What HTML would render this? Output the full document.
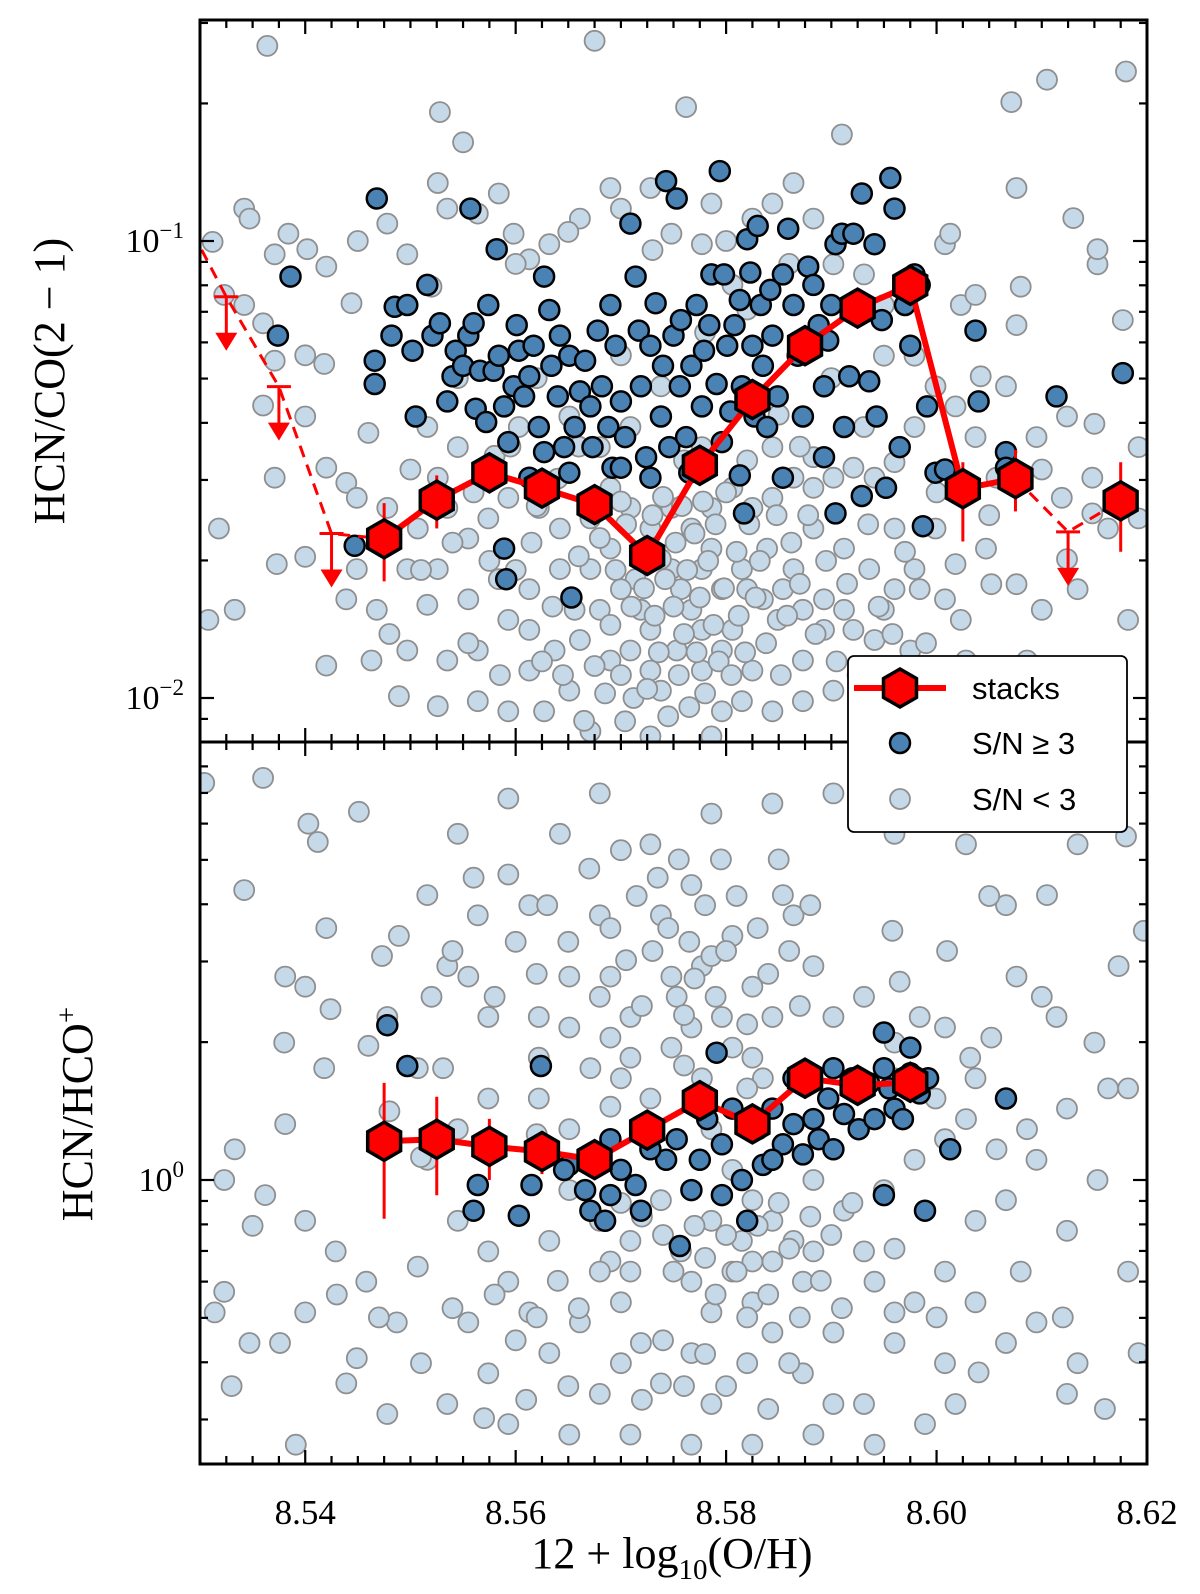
<!DOCTYPE html>
<html><head><meta charset="utf-8"><style>
html,body{margin:0;padding:0;background:#fff;}
svg{display:block;}
</style></head><body>
<svg id="fig" xmlns="http://www.w3.org/2000/svg" width="1200" height="1594" viewBox="0 0 1200 1594">
<defs>
<clipPath id="clipTop"><rect x="200" y="20" width="947" height="722"/></clipPath>
<clipPath id="clipBot"><rect x="200" y="742" width="947" height="722"/></clipPath>
</defs>
<g id="topPanel"></g>
<g id="botPanel"></g>
<g id="axes"></g>
<g id="legend"></g>
</svg>
<script>
// ---- data (x = 12+log10(O/H), y = log10 ratio) ----
const xTickLabels = ["8.54","8.56","8.58","8.60","8.62"];
const xTickValues = [8.54,8.56,8.58,8.60,8.62];
const topYTickExp = [-1,-2];
const botYTickExp = [0];

const topStackX = [8.5475,8.5525,8.5575,8.5625,8.5675,8.5725,8.5775,8.5825,8.5875,8.5925,8.5975,8.6025,8.6075,8.6175];
const topStackY = [0.0223,0.0271,0.0311,0.0288,0.0265,0.0205,0.0323,0.045,0.059,0.0713,0.080,0.0287,0.0302,0.027];
const topStackLo = [0.018,0.0235,0.0295,0.0275,0.0253,0.0195,0.0308,0.0432,0.0566,0.0688,0.0772,0.022,0.0256,0.0209];
const topStackHi = [0.0267,0.0307,0.0328,0.0302,0.0278,0.0216,0.0339,0.0468,0.0614,0.0738,0.0828,0.0328,0.0349,0.0328];
const topLimitX = [8.5275,8.5325,8.5375,8.5425,8.6125];
const topLimitY = [0.125,0.0755,0.048,0.0229,0.0231];

const botStackX = [8.5475,8.5525,8.5575,8.5625,8.5675,8.5725,8.5775,8.5825,8.5875,8.5925,8.5975];
const botStackY = [1.215,1.227,1.184,1.154,1.108,1.285,1.49,1.326,1.668,1.61,1.634];
const botStackLo = [0.823,0.926,1.0,1.03,1.05,1.24,1.43,1.28,1.62,1.56,1.58];
const botStackHi = [1.63,1.52,1.36,1.28,1.2,1.33,1.55,1.37,1.72,1.66,1.69];

const topDark = [[8.5468,-0.907],[8.5386,-1.078],[8.5374,-1.207],[8.5466,-1.262],[8.5466,-1.313],[8.5485,-1.144],[8.5497,-1.140],[8.5482,-1.207],[8.5502,-1.240],[8.5505,-1.384],[8.5516,-1.096],[8.5521,-1.207],[8.5528,-1.180],[8.5535,-1.351],[8.5540,-1.296],[8.5543,-1.240],[8.5550,-1.273],[8.5555,-1.207],[8.5557,-0.929],[8.5560,-1.180],[8.5562,-1.367],[8.5566,-1.284],[8.5572,-1.396],[8.5574,-1.140],[8.5579,-1.284],[8.5582,-1.018],[8.5584,-1.251],[8.5589,-1.362],[8.5593,-1.440],[8.5598,-1.318],[8.5601,-1.184],[8.5603,-1.240],[8.5608,-1.340],[8.5613,-1.296],[8.5617,-1.229],[8.5622,-1.407],[8.5627,-1.078],[8.5627,-1.462],[8.5632,-1.151],[8.5634,-1.273],[8.5640,-1.340],[8.5642,-1.207],[8.5646,-1.451],[8.5651,-1.251],[8.5656,-1.407],[8.5661,-1.329],[8.5666,-1.262],[8.5671,-1.362],[8.5673,-1.451],[8.5678,-1.196],[8.5682,-1.318],[8.5688,-1.407],[8.5690,-1.140],[8.5692,-1.496],[8.5695,-1.229],[8.5700,-1.351],[8.5704,-1.429],[8.5709,-0.962],[8.5714,-1.078],[8.5717,-1.196],[8.5719,-1.318],[8.5724,-1.473],[8.5728,-1.229],[8.5733,-1.136],[8.5738,-1.384],[8.5740,-1.273],[8.5743,-0.869],[8.5746,-1.451],[8.5750,-1.207],[8.5753,-0.907],[8.5756,-1.318],[8.5757,-1.173],[8.5762,-1.429],[8.5767,-1.273],[8.5772,-1.140],[8.5777,-1.362],[8.5779,-1.240],[8.5784,-1.184],[8.5786,-1.073],[8.5791,-1.313],[8.5794,-0.847],[8.5796,-1.440],[8.5798,-1.073],[8.5801,-1.229],[8.5804,-1.373],[8.5808,-1.184],[8.5813,-1.129],[8.5815,-1.318],[8.5820,-0.996],[8.5823,-1.069],[8.5825,-1.229],[8.5827,-1.384],[8.5830,-0.967],[8.5833,-1.140],[8.5835,-1.273],[8.5839,-1.407],[8.5842,-1.107],[8.5844,-1.207],[8.5849,-1.340],[8.5854,-1.073],[8.5859,-0.973],[8.5864,-1.140],[8.5868,-1.251],[8.5873,-1.384],[8.5878,-1.056],[8.5883,-1.096],[8.5888,-1.184],[8.5893,-1.318],[8.5897,-1.218],[8.5900,-1.140],[8.5904,-1.007],[8.5910,-0.984],[8.5912,-1.407],[8.5917,-1.296],[8.5921,-0.984],[8.5929,-0.896],[8.5936,-1.307],[8.5941,-1.007],[8.5943,-1.384],[8.5948,-1.173],[8.5952,-1.540],[8.5956,-0.862],[8.5960,-0.929],[8.5965,-1.451],[8.5970,-1.140],[8.5975,-1.229],[8.5979,-1.073],[8.5984,-1.096],[8.5987,-1.624],[8.5991,-1.362],[8.5999,-1.507],[8.6008,-1.500],[8.6023,-1.544],[8.6040,-1.351],[8.6066,-1.462],[8.6066,-1.496],[8.6114,-1.340],[8.6177,-1.289],[8.6037,-1.196],[8.5447,-1.667],[8.5589,-1.673],[8.5591,-1.740],[8.5653,-1.780],[8.5817,-1.596],[8.5700,-1.496],[8.5765,-1.507],[8.5813,-1.513],[8.5854,-1.518],[8.5893,-1.473],[8.5929,-1.558],[8.5904,-1.596],[8.5651,-1.507],[8.5613,-1.518],[8.5728,-1.518]];

const topFaint = [[8.5364,-0.573],[8.5675,-0.562],[8.5528,-0.718],[8.5550,-0.784],[8.5762,-0.707],[8.5910,-0.767],[8.6105,-0.647],[8.6180,-0.629],[8.5342,-0.929],[8.5347,-0.951],[8.5384,-0.984],[8.5371,-1.029],[8.5402,-1.018],[8.5420,-1.056],[8.5444,-1.136],[8.5342,-1.140],[8.5312,-1.002],[8.5323,-1.118],[8.5360,-1.180],[8.5371,-1.262],[8.5418,-1.269],[8.5400,-1.384],[8.5420,-1.496],[8.5439,-1.529],[8.5371,-1.518],[8.5318,-1.629],[8.5400,-1.691],[8.5373,-1.707],[8.5333,-1.807],[8.5308,-1.829],[8.5420,-1.929],[8.5439,-1.784],[8.5463,-1.918],[8.5489,-1.996],[8.5516,-1.796],[8.5526,-2.018],[8.5564,-1.896],[8.5593,-1.829],[8.5613,-1.940],[8.5627,-2.029],[8.5651,-1.984],[8.5661,-1.873],[8.5680,-1.807],[8.5690,-1.918],[8.5704,-2.051],[8.5714,-1.740],[8.5728,-1.851],[8.5738,-1.984],[8.5748,-1.718],[8.5767,-1.807],[8.5777,-1.940],[8.5786,-1.673],[8.5796,-2.029],[8.5806,-1.851],[8.5820,-1.762],[8.5825,-1.940],[8.5839,-1.673],[8.5849,-1.829],[8.5864,-1.718],[8.5873,-1.918],[8.5883,-1.629],[8.5893,-1.784],[8.5902,-1.984],[8.5912,-1.673],[8.5921,-1.851],[8.5936,-1.718],[8.5950,-1.807],[8.5960,-1.629],[8.5975,-1.896],[8.5984,-1.762],[8.5999,-1.629],[8.6008,-1.784],[8.6018,-1.707],[8.6023,-1.829],[8.6047,-1.673],[8.6052,-1.751],[8.6076,-1.751],[8.6100,-1.807],[8.6124,-1.696],[8.6148,-1.596],[8.6182,-1.829],[8.6192,-1.451],[8.6177,-1.173],[8.6153,-1.051],[8.6153,-1.018],[8.6124,-1.384],[8.6119,-1.562],[8.6148,-1.518],[8.6095,-1.429],[8.6076,-1.184],[8.6066,-1.318],[8.6042,-1.296],[8.6023,-1.140],[8.6008,-1.007],[8.6013,-0.984],[8.6037,-1.118],[8.6076,-0.884],[8.6071,-0.696],[8.5478,-0.962],[8.5497,-1.029],[8.5526,-0.873],[8.5535,-0.929],[8.5564,-0.940],[8.5584,-0.896],[8.5598,-0.984],[8.5613,-1.040],[8.5632,-1.007],[8.5661,-0.951],[8.5690,-0.884],[8.5700,-0.929],[8.5728,-0.884],[8.5748,-0.984],[8.5777,-1.007],[8.5786,-0.918],[8.5806,-1.096],[8.5825,-0.951],[8.5844,-0.918],[8.5864,-0.873],[8.5883,-0.951],[8.5902,-1.051],[8.5931,-1.073],[8.5950,-1.140],[8.5449,-1.562],[8.5478,-1.584],[8.5507,-1.629],[8.5535,-1.584],[8.5555,-1.651],[8.5574,-1.607],[8.5593,-1.562],[8.5622,-1.584],[8.5642,-1.629],[8.5671,-1.607],[8.5690,-1.673],[8.5709,-1.584],[8.5728,-1.629],[8.5748,-1.584],[8.5767,-1.629],[8.5786,-1.584],[8.5806,-1.540],[8.5825,-1.584],[8.5844,-1.562],[8.5864,-1.518],[8.5883,-1.540],[8.5902,-1.518],[8.5921,-1.496],[8.5941,-1.518],[8.5960,-1.484],[8.5979,-1.407],[8.5999,-1.318],[8.6018,-1.362],[8.6037,-1.429],[8.6057,-1.518],[8.5497,-1.718],[8.5526,-1.718],[8.5555,-1.784],[8.5584,-1.740],[8.5613,-1.762],[8.5642,-1.718],[8.5671,-1.718],[8.5700,-1.762],[8.5719,-1.807],[8.5738,-1.696],[8.5757,-1.762],[8.5777,-1.718],[8.5796,-1.762],[8.5815,-1.718],[8.5835,-1.784],[8.5854,-1.762],[8.5873,-1.807],[8.5893,-1.851],[8.5912,-1.807],[8.5941,-1.873],[8.5960,-1.762],[8.5979,-1.718],[8.5613,-1.851],[8.5637,-1.896],[8.5656,-1.807],[8.5690,-1.840],[8.5709,-1.896],[8.5728,-1.940],[8.5753,-1.896],[8.5777,-1.851],[8.5796,-1.896],[8.5815,-2.007],[8.5844,-2.029],[8.5873,-2.007],[8.5931,-2.029],[8.5960,-1.940],[8.5593,-2.029],[8.5564,-2.007],[8.5535,-1.918],[8.5497,-1.896],[8.5468,-1.807],[8.5449,-1.718],[8.5516,-1.407],[8.5545,-1.451],[8.5603,-1.407],[8.5651,-1.384],[8.5680,-1.451],[8.5709,-1.407],[8.5738,-1.318],[8.5777,-1.451],[8.5844,-1.451],[8.5883,-1.473],[8.5931,-1.407],[8.5979,-1.251],[8.5950,-1.251],[8.5690,-1.540],[8.5632,-1.540],[8.5526,-1.518],[8.6192,-1.607],[8.6134,-1.762],[8.6163,-1.629],[8.6028,-1.918],[8.6057,-2.007],[8.6086,-1.918],[8.6134,-1.984],[8.5999,-2.029],[8.6037,-2.073],[8.5671,-2.073],[8.5728,-2.084],[8.5786,-2.084]];

const topFaintDense = [[8.5635,-1.80],[8.5645,-1.95],[8.5660,-1.69],[8.5665,-2.05],[8.5675,-1.93],[8.5680,-1.65],[8.5685,-1.99],[8.5695,-1.72],[8.5700,-1.95],[8.5705,-1.62],[8.5710,-1.80],[8.5712,-2.00],[8.5718,-1.68],[8.5722,-1.76],[8.5725,-1.98],[8.5730,-1.60],[8.5732,-1.82],[8.5736,-1.90],[8.5740,-1.56],[8.5742,-1.74],[8.5745,-2.04],[8.5750,-1.80],[8.5752,-1.66],[8.5755,-1.95],[8.5758,-1.58],[8.5760,-1.86],[8.5763,-1.72],[8.5765,-2.02],[8.5770,-1.64],[8.5772,-1.90],[8.5775,-1.78],[8.5778,-1.57],[8.5780,-1.99],[8.5783,-1.70],[8.5788,-1.84],[8.5790,-1.62],[8.5793,-1.92],[8.5798,-1.76],[8.5800,-1.55],[8.5805,-1.95],[8.5810,-1.68],[8.5812,-1.82],[8.5818,-1.90],[8.5822,-1.62],[8.5828,-1.78],[8.5832,-1.70],[8.5838,-1.88],[8.5848,-1.60],[8.5852,-1.95],[8.5858,-1.82],[8.5862,-1.66],[8.5870,-1.75],[8.5878,-1.60],[8.5885,-1.86],[8.5895,-1.70],[8.5905,-1.92],[8.5915,-1.75],[8.5925,-1.95],[8.5935,-1.62],[8.5945,-1.80],[8.5958,-1.86],[8.5970,-1.68],[8.5990,-1.88],[8.5540,-1.66],[8.5555,-1.88],[8.5575,-1.70],[8.5585,-1.95],[8.5600,-1.72],[8.5615,-1.66],[8.5625,-1.92],[8.5620,-1.58],[8.5560,-1.55],[8.5510,-1.72],[8.5480,-1.86],[8.5580,-1.47],[8.5640,-1.52],[8.5700,-1.57],[8.5760,-1.48],[8.5820,-1.48],[8.5870,-1.45],[8.5460,-1.42],[8.5500,-1.50],[8.5595,-1.45],[8.5660,-1.45],[8.5850,-1.38],[8.5900,-1.30],[8.5620,-1.30],[8.5545,-1.30],[8.5700,-1.25],[8.5780,-1.20],[8.5820,-1.15],[8.5860,-1.05],[8.5520,-1.10],[8.5600,-1.05],[8.5650,-0.98],[8.5730,-1.02],[8.5800,-1.00],[8.5450,-1.00],[8.5400,-1.25],[8.5360,-1.36],[8.6000,-1.55],[8.6050,-1.60],[8.6100,-1.50],[8.6150,-1.40],[8.6080,-1.10],[8.6130,-0.95]];

const botFaint = [[8.5304,0.867],[8.5360,0.878],[8.5342,0.633],[8.5403,0.778],[8.5412,0.738],[8.5451,0.804],[8.5381,0.444],[8.5400,0.422],[8.5424,0.373],[8.5473,0.489],[8.5489,0.533],[8.5516,0.622],[8.5535,0.467],[8.5478,0.356],[8.5460,0.293],[8.5418,0.244],[8.5507,0.244],[8.5531,0.244],[8.5555,0.444],[8.5574,0.356],[8.5593,0.667],[8.5613,0.600],[8.5622,0.356],[8.5651,0.444],[8.5680,0.578],[8.5690,0.444],[8.5709,0.356],[8.5738,0.578],[8.5753,0.400],[8.5777,0.467],[8.5796,0.356],[8.5806,0.533],[8.5825,0.422],[8.5844,0.356],[8.5864,0.578],[8.5883,0.467],[8.5902,0.356],[8.5931,0.400],[8.5958,0.544],[8.5965,0.433],[8.5984,0.356],[8.6008,0.333],[8.6032,0.267],[8.6076,0.444],[8.6114,0.356],[8.6182,0.200],[8.6197,0.544],[8.6173,0.467],[8.6105,0.622],[8.6134,0.733],[8.6028,0.733],[8.6066,0.600],[8.6052,0.311],[8.5960,0.756],[8.5902,0.844],[8.5844,0.822],[8.5786,0.800],[8.5728,0.733],[8.5680,0.844],[8.5593,0.833],[8.5545,0.756],[8.5854,0.622],[8.5767,0.644],[8.5642,0.756],[8.5564,0.578],[8.5333,0.067],[8.5323,0.000],[8.5381,0.122],[8.5362,-0.033],[8.5400,-0.089],[8.5429,-0.156],[8.5458,-0.222],[8.5487,-0.311],[8.5507,-0.189],[8.5449,-0.389],[8.5400,-0.289],[8.5376,-0.356],[8.5347,-0.356],[8.5323,-0.244],[8.5314,-0.289],[8.5545,-0.089],[8.5574,-0.156],[8.5593,-0.222],[8.5613,-0.289],[8.5632,-0.378],[8.5661,-0.311],[8.5690,-0.178],[8.5700,-0.267],[8.5719,-0.356],[8.5738,-0.444],[8.5767,-0.378],[8.5786,-0.289],[8.5806,-0.200],[8.5825,-0.267],[8.5844,-0.333],[8.5873,-0.422],[8.5902,-0.333],[8.5931,-0.489],[8.5960,-0.356],[8.5979,-0.267],[8.6008,-0.200],[8.6037,-0.089],[8.6066,-0.044],[8.6095,0.044],[8.6124,-0.111],[8.6153,0.000],[8.6182,-0.200],[8.6192,-0.378],[8.6134,-0.400],[8.6095,-0.311],[8.6066,-0.356],[8.6037,-0.267],[8.6008,-0.400],[8.5989,-0.533],[8.5941,-0.578],[8.5883,-0.556],[8.5825,-0.578],[8.5767,-0.578],[8.5709,-0.556],[8.5651,-0.556],[8.5593,-0.533],[8.5535,-0.489],[8.5478,-0.511],[8.5439,-0.444],[8.5391,-0.578],[8.5574,-0.422],[8.5680,-0.467],[8.5786,-0.489],[8.5902,-0.489],[8.6018,-0.489],[8.6124,-0.467],[8.5516,0.044],[8.5545,0.111],[8.5622,0.178],[8.5651,0.111],[8.5671,0.244],[8.5700,0.222],[8.5728,0.178],[8.5748,0.289],[8.5777,0.222],[8.5786,0.111],[8.5806,0.022],[8.5825,-0.044],[8.5844,-0.089],[8.5864,-0.133],[8.5883,0.000],[8.5912,-0.067],[8.5931,-0.156],[8.5950,-0.022],[8.5979,0.044],[8.6008,0.089],[8.6028,0.133],[8.6057,0.067],[8.6086,0.111],[8.6124,0.156],[8.6163,0.200],[8.5651,-0.022],[8.5680,-0.089],[8.5709,-0.133],[8.5738,-0.044],[8.5757,-0.156],[8.5786,-0.089],[8.5815,-0.133],[8.5844,-0.178],[8.5873,-0.222],[8.5632,-0.133],[8.5709,-0.200],[8.5767,-0.222],[8.5825,-0.178],[8.5883,-0.156],[8.5941,-0.222],[8.5960,-0.289],[8.5709,0.267],[8.5767,0.333],[8.5806,0.289],[8.5835,0.222],[8.5651,0.333],[8.5690,0.311],[8.5748,0.444],[8.5786,0.489],[8.5825,0.267],[8.5622,0.267],[8.5574,0.178],[8.5960,0.222],[8.5999,0.178],[8.6037,0.222],[8.5555,-0.311]];

const botFaintDense = [[8.5630,0.60],[8.5650,0.52],[8.5670,0.68],[8.5680,0.40],[8.5690,0.55],[8.5700,0.72],[8.5705,0.48],[8.5715,0.62],[8.5720,0.38],[8.5730,0.50],[8.5735,0.66],[8.5745,0.55],[8.5755,0.70],[8.5760,0.36],[8.5765,0.52],[8.5770,0.44],[8.5780,0.60],[8.5790,0.40],[8.5795,0.70],[8.5800,0.50],[8.5810,0.62],[8.5820,0.34],[8.5830,0.55],[8.5840,0.45],[8.5850,0.70],[8.5860,0.50],[8.5870,0.38],[8.5880,0.60],[8.5620,0.45],[8.5600,0.52],[8.5580,0.40],[8.5560,0.66],[8.5540,0.50],[8.5520,0.40],[8.5700,-0.05],[8.5720,-0.08],[8.5740,-0.12],[8.5750,-0.20],[8.5770,-0.10],[8.5780,-0.17],[8.5790,-0.25],[8.5800,-0.12],[8.5810,-0.20],[8.5820,-0.30],[8.5830,-0.10],[8.5840,-0.25],[8.5850,-0.05],[8.5860,-0.15],[8.5870,-0.30],[8.5880,-0.08],[8.5890,-0.22],[8.5900,-0.12],[8.5910,-0.28],[8.5920,-0.05],[8.5680,-0.20],[8.5660,-0.28],[8.5640,-0.22],[8.5620,-0.30],[8.5600,-0.35],[8.5580,-0.25],[8.5700,-0.40],[8.5720,-0.48],[8.5740,-0.35],[8.5760,-0.45],[8.5780,-0.38],[8.5800,-0.45],[8.5820,-0.40],[8.5840,-0.50],[8.5860,-0.40],[8.5650,-0.45],[8.5610,-0.48],[8.5570,-0.52],[8.5540,-0.28],[8.5510,-0.40],[8.5470,-0.30],[8.5430,-0.25],[8.5960,-0.15],[8.6000,-0.30],[8.6040,-0.42],[8.6080,-0.20],[8.6120,-0.30],[8.6160,-0.50],[8.5350,-0.10],[8.5330,-0.45],[8.5380,0.30],[8.5420,0.55],[8.5480,0.15],[8.5510,0.05],[8.5960,0.30],[8.6010,0.50],[8.6050,0.62],[8.6100,0.40],[8.6150,0.30],[8.6180,0.75],[8.5620,0.10],[8.5690,0.16],[8.5760,0.25],[8.5820,0.20]];

const botDark = [[8.5478,0.338],[8.5497,0.249],[8.5624,0.249],[8.5791,0.278],[8.5950,0.322],[8.5975,0.289],[8.6066,0.178],[8.6013,0.067],[8.5560,-0.067],[8.5564,-0.011],[8.5603,-0.078],[8.5615,-0.011],[8.5651,0.033],[8.5666,-0.022],[8.5671,-0.067],[8.5685,-0.089],[8.5700,0.022],[8.5714,-0.011],[8.5719,-0.067],[8.5743,0.044],[8.5753,0.089],[8.5767,-0.022],[8.5775,0.044],[8.5782,0.133],[8.5796,0.078],[8.5806,0.156],[8.5815,0.000],[8.5820,-0.089],[8.5830,0.111],[8.5835,0.033],[8.5844,0.156],[8.5854,0.078],[8.5864,0.122],[8.5873,0.056],[8.5883,0.133],[8.5888,0.089],[8.5897,0.178],[8.5902,0.067],[8.5912,0.144],[8.5920,0.222],[8.5926,0.111],[8.5936,0.211],[8.5941,0.133],[8.5950,0.244],[8.5955,0.200],[8.5960,0.156],[8.5968,0.133],[8.5975,0.233],[8.5984,0.189],[8.5950,-0.033],[8.5989,-0.067],[8.5864,0.222],[8.5844,0.044],[8.5902,0.244],[8.5690,0.089],[8.5728,0.067],[8.5756,-0.144],[8.5646,0.022],[8.5690,-0.033],[8.5796,-0.033],[8.5992,0.222]];

// ---- axis functions ----
const X0=200, X1=1147, XMIN=8.53, XMAX=8.62;
function xs(v){ return X0 + (v-XMIN)/(XMAX-XMIN)*(X1-X0); }
const TOP0=20, MID=742, BOT=1464;
function ysTopLog(l){ return 241 + (-1 - l)*457; }
function ysTop(v){ return ysTopLog(Math.log10(v)); }
function ysBotLog(l){ return 1180 - l*458; }
function ysBot(v){ return ysBotLog(Math.log10(v)); }

const NS="http://www.w3.org/2000/svg";
function mk(tag, attrs, parent){
  const e=document.createElementNS(NS,tag);
  for(const k in attrs) e.setAttribute(k, attrs[k]);
  parent.appendChild(e); return e;
}
function hexPts(cx,cy,r){
  let s=[];
  for(let k=0;k<6;k++){ const a=(90+60*k)*Math.PI/180; s.push((cx+r*Math.cos(a)).toFixed(1)+","+(cy-r*Math.sin(a)).toFixed(1)); }
  return s.join(" ");
}

const topG=document.getElementById('topPanel');
const botG=document.getElementById('botPanel');
const tClip=mk('g',{'clip-path':'url(#clipTop)'},topG);
const bClip=mk('g',{'clip-path':'url(#clipBot)'},botG);

function scatter(parent, pts, yfun, dark, nm){
  pts.forEach(p=>{
    const c=mk('circle',{cx:xs(p[0]).toFixed(1), cy:yfun(p[1]).toFixed(1), r:10,
      fill: dark?'#4a82b4':'#c6d9e9', stroke: dark?'#000':'#8f8f8f', 'stroke-width': dark?2.5:1.8}, parent);
    
    
  });
}
scatter(tClip, topFaint, ysTopLog, false, 'faint-point');
scatter(tClip, topFaintDense, ysTopLog, false, 'faint-point');
scatter(tClip, topDark, ysTopLog, true, 'detection-point');
scatter(bClip, botFaint, ysBotLog, false, 'faint-point');
scatter(bClip, botFaintDense, ysBotLog, false, 'faint-point');
scatter(bClip, botDark, ysBotLog, true, 'detection-point');

function polyline(parent, xsArr, ysArr, yfun, dashed, nm){
  const pts = xsArr.map((x,i)=>xs(x).toFixed(1)+","+yfun(ysArr[i]).toFixed(1)).join(" ");
  const l=mk('polyline',{points:pts, fill:'none', stroke:'#ff0000', 'stroke-width': dashed?3:6, 'stroke-dasharray': dashed?'12,8':'none', 'stroke-linejoin':'round'}, parent);
  
  
}
polyline(tClip, [topLimitX[0],topLimitX[1],topLimitX[2],topLimitX[3],topStackX[0]],
  [topLimitY[0],topLimitY[1],topLimitY[2],topLimitY[3],topStackY[0]], ysTop, true, 'limit-line-left');
polyline(tClip, [topStackX[12], topLimitX[4], topStackX[13]], [topStackY[12], topLimitY[4], topStackY[13]], ysTop, true, 'limit-line-right');
polyline(tClip, topStackX.slice(0,13), topStackY.slice(0,13), ysTop, false, 'stack-line-top');
topLimitX.forEach((x,i)=>{
  const cx=xs(x), cy=ysTop(topLimitY[i]);
  const g=mk('g',{},tClip);
  
  
  mk('line',{x1:cx-12,y1:cy,x2:cx+12,y2:cy,stroke:'#ff0000','stroke-width':3},g);
  mk('line',{x1:cx,y1:cy,x2:cx,y2:cy+40,stroke:'#ff0000','stroke-width':3},g);
  mk('polygon',{points:`${cx-11},${cy+36} ${cx+11},${cy+36} ${cx},${cy+54}`,fill:'#ff0000'},g);
});
function stacks(parent, X, Y, Lo, Hi, yfun, nm){
  X.forEach((x,i)=>{
    const cx=xs(x);
    const e=mk('line',{x1:cx,y1:yfun(Lo[i]),x2:cx,y2:yfun(Hi[i]),stroke:'#ff0000','stroke-width':3},parent);
    
    
  });
  X.forEach((x,i)=>{
    const h=mk('polygon',{points:hexPts(xs(x),yfun(Y[i]),19),fill:'#ff0000',stroke:'#000','stroke-width':3.5,'stroke-linejoin':'miter'},parent);
    
    
  });
}
stacks(tClip, topStackX, topStackY, topStackLo, topStackHi, ysTop, 'stack-marker');
polyline(bClip, botStackX, botStackY, ysBot, false, 'stack-line-bottom');
stacks(bClip, botStackX, botStackY, botStackLo, botStackHi, ysBot, 'stack-marker');

// ---- axes ----
const ax=document.getElementById('axes');
function ln(x1,y1,x2,y2,w,nm){
  const l=mk('line',{x1,y1,x2,y2,stroke:'#000','stroke-width':w},ax);
  
  
}
function txt(x,y,s,size,anchor,family,nm){
  const t=mk('text',{x,y,'font-size':size,'text-anchor':anchor,'font-family':family,fill:'#000'},ax);
  t.textContent=s;
  
  
  return t;
}
const edges=[[TOP0,1],[MID,-1],[MID,1],[BOT,-1]];
for(let k=0;k<=36;k++){
  const v=XMIN+k*0.0025;
  const major = xTickValues.some(t=>Math.abs(t-v)<1e-6);
  const len = major?14:8;
  const x=xs(v);
  edges.forEach(([y,d])=>{ ln(x,y,x,y+d*len,2.2,major?'x-major-tick':'x-minor-tick'); });
}
for(let e=-3;e<=0;e++){
  for(let m=1;m<=9;m++){
    const l=e+Math.log10(m);
    const y=ysTopLog(l);
    if(y<TOP0+1||y>MID-1) continue;
    const len = m===1?14:8;
    ln(X0,y,X0+len,y,2.2,'y-tick-top'); ln(X1,y,X1-len,y,2.2,'y-tick-top');
  }
}
for(let e=-2;e<=1;e++){
  for(let m=1;m<=9;m++){
    const l=e+Math.log10(m);
    const y=ysBotLog(l);
    if(y<MID+1||y>BOT-1) continue;
    const len = m===1?14:8;
    ln(X0,y,X0+len,y,2.2,'y-tick-bottom'); ln(X1,y,X1-len,y,2.2,'y-tick-bottom');
  }
}
mk('rect',{x:X0,y:TOP0,width:X1-X0,height:BOT-TOP0,fill:'none',stroke:'#000','stroke-width':3},ax);
ln(X0,MID,X1,MID,3,'panel-divider');
xTickValues.forEach((v,i)=>{ txt(xs(v),1524,xTickLabels[i],35,'middle','"Liberation Serif", serif','x-tick-label'); });
function pow10(x,y,exp,nm){
  const t=txt(x,y,'',34,'end','"Liberation Serif", serif',nm);
  const a=document.createElementNS(NS,'tspan'); a.textContent='10'; t.appendChild(a);
  const b=document.createElementNS(NS,'tspan'); b.setAttribute('dy','-14'); b.setAttribute('font-size','23');
  b.textContent = exp<0 ? '\u2212'+(-exp) : String(exp); t.appendChild(b);
}
topYTickExp.forEach(e=>pow10(184, ysTopLog(e)+11, e, 'y-tick-label-top'));
botYTickExp.forEach(e=>pow10(184, ysBotLog(e)+11, e, 'y-tick-label-bottom'));
let t1=txt(0,0,'HCN/CO(2 \u2212 1)',44,'middle','"Liberation Serif", serif','y-axis-title-top');
t1.setAttribute('transform','translate(64,381) rotate(-90)');
let t2=txt(0,0,'',44,'middle','"Liberation Serif", serif','y-axis-title-bottom');
t2.setAttribute('transform','translate(92,1114) rotate(-90)');
(function(){ const a=document.createElementNS(NS,'tspan'); a.textContent='HCN/HCO'; t2.appendChild(a);
 const b=document.createElementNS(NS,'tspan'); b.setAttribute('dy','-16'); b.setAttribute('font-size','29'); b.textContent='+'; t2.appendChild(b);})();
let xl=txt(672,1568,'',44,'middle','"Liberation Serif", serif','x-axis-title');
(function(){ const a=document.createElementNS(NS,'tspan'); a.textContent='12 + log'; xl.appendChild(a);
 const b=document.createElementNS(NS,'tspan'); b.setAttribute('dy','11'); b.setAttribute('font-size','29'); b.textContent='10'; xl.appendChild(b);
 const c=document.createElementNS(NS,'tspan'); c.setAttribute('dy','-11'); c.textContent='(O/H)'; xl.appendChild(c);})();

// ---- legend ----
const lg=document.getElementById('legend');
const lb=mk('rect',{x:848,y:656,width:279,height:176,rx:6,fill:'#fff',stroke:'#000','stroke-width':1.8},lg);
 
const e1=mk('g',{},lg);  
mk('line',{x1:854,y1:688,x2:946,y2:688,stroke:'#ff0000','stroke-width':6},e1);
mk('polygon',{points:hexPts(900,688,19),fill:'#ff0000',stroke:'#000','stroke-width':3.5},e1);
mk('text',{x:972,y:699,'font-size':31,'font-family':'"Liberation Sans", sans-serif'},e1).textContent='stacks';
const e2=mk('g',{},lg);  
mk('circle',{cx:900,cy:743,r:10,fill:'#4a82b4',stroke:'#000','stroke-width':2.5},e2);
mk('text',{x:972,y:754,'font-size':31,'font-family':'"Liberation Sans", "DejaVu Sans", sans-serif'},e2).textContent='S/N \u2265 3';
const e3=mk('g',{},lg);  
mk('circle',{cx:900,cy:799,r:10,fill:'#c6d9e9',stroke:'#8f8f8f','stroke-width':1.8},e3);
mk('text',{x:972,y:810,'font-size':31,'font-family':'"Liberation Sans", sans-serif'},e3).textContent='S/N < 3';
</script>
</body></html>
